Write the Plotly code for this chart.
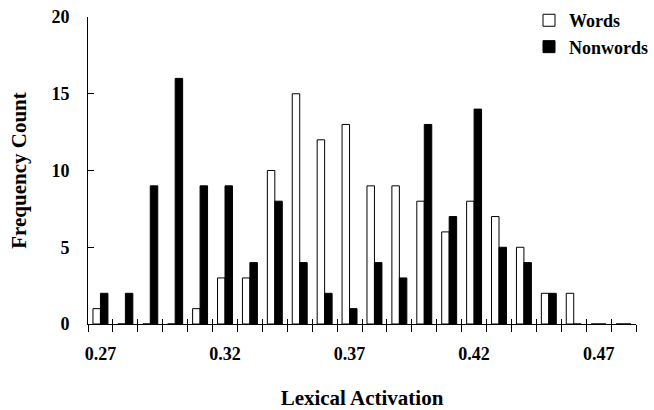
import plotly.graph_objects as go

categories = ["0.27", "0.28", "0.29", "0.30", "0.31", "0.32", "0.33", "0.34", "0.35", "0.36", "0.37",
              "0.38", "0.39", "0.40", "0.41", "0.42", "0.43", "0.44", "0.45", "0.46", "0.47", "0.48"]
words = [1, 0, 0, 0, 1, 3, 3, 10, 15, 12, 13, 9, 9, 8, 6, 8, 7, 5, 2, 2, 0, 0]
nonwords = [2, 2, 9, 16, 9, 9, 4, 8, 4, 2, 1, 4, 3, 13, 7, 14, 5, 4, 2, 0, 0, 0]
shown_labels = ["0.27", "0.32", "0.37", "0.42", "0.47"]
y_ticks = [0, 5, 10, 15, 20]

FONT = "Liberation Serif"

fig = go.Figure()
fig.add_trace(go.Bar(x=categories, y=words, name="<b>Words</b>",
                     marker=dict(color="white", line=dict(color="black", width=1))))
fig.add_trace(go.Bar(x=categories, y=nonwords, name="<b>Nonwords</b>",
                     marker=dict(color="black", line=dict(color="black", width=1))))
# overlay axis for the inner half of the crossing ticks
fig.add_trace(go.Scatter(x=[], y=[], xaxis="x2", yaxis="y", showlegend=False, hoverinfo="skip"))

ticktext = [f"<b>{c}</b>" if c in shown_labels else "" for c in categories]

fig.update_layout(
    width=654, height=410,
    margin=dict(l=88, r=18, t=17, b=86, autoexpand=False),
    paper_bgcolor="white", plot_bgcolor="white",
    font=dict(family=FONT, color="black", size=18),
    barmode="group", bargap=0.4, bargroupgap=0,
    showlegend=True,
    legend=dict(xref="container", yref="container", x=1.0, y=0.995, xanchor="right", yanchor="top",
                font=dict(family=FONT, size=18, color="black"),
                bgcolor="rgba(0,0,0,0)", itemwidth=30, tracegroupgap=10),
    xaxis=dict(type="category", categoryorder="array", categoryarray=categories,
               tickmode="array", tickvals=categories, ticktext=ticktext, tickangle=0,
               tickson="boundaries", ticks="outside", ticklen=7, tickcolor="black", tickwidth=1,
               showline=True, linecolor="black", linewidth=1, showgrid=False, zeroline=False,
               range=[-0.5, 21.5], ticklabelstandoff=13, automargin=False,
               tickfont=dict(family=FONT, size=18, color="black"),
               title=dict(text="<b>Lexical Activation</b>", font=dict(family=FONT, size=21, color="black"),
                          standoff=32)),
    xaxis2=dict(overlaying="x", range=[-0.5, 21.5], tickmode="linear", tick0=-0.5, dtick=1,
                ticks="inside", ticklen=5, tickcolor="black", tickwidth=1,
                showticklabels=False, showgrid=False, zeroline=False, showline=False,
                anchor="y", side="bottom", automargin=False),
    yaxis=dict(range=[0, 20], tickmode="array", tickvals=y_ticks,
               ticktext=[f"<b>{v}</b>" for v in y_ticks],
               ticks="inside", ticklen=6, tickcolor="black", tickwidth=1,
               showline=True, linecolor="black", linewidth=1, showgrid=False, zeroline=False,
               ticklabelstandoff=14, automargin=False,
               tickfont=dict(family=FONT, size=18, color="black"),
               title=dict(text="<b>Frequency Count</b>", font=dict(family=FONT, size=21, color="black"),
                          standoff=19)),
)

fig.write_html("out.html", config={"displayModeBar": False},
               post_script="document.body.style.margin='0';")
